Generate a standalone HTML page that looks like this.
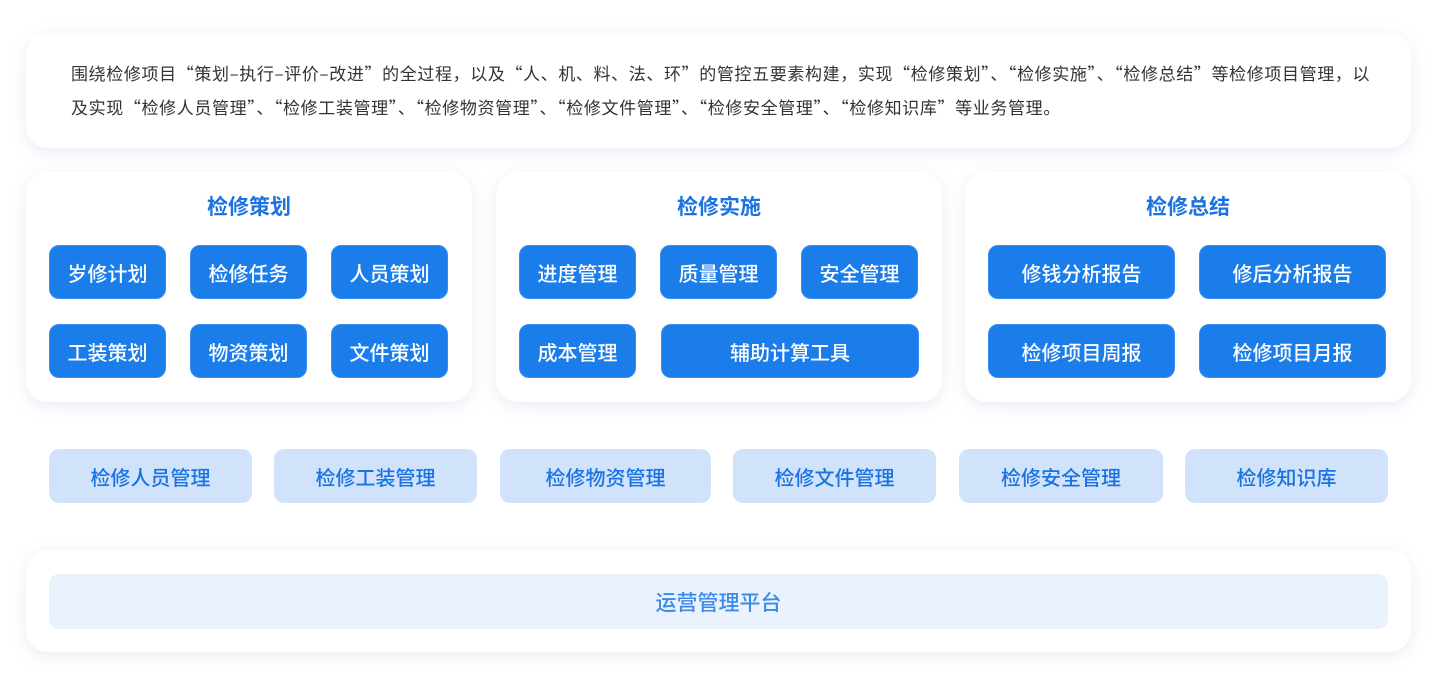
<!DOCTYPE html>
<html><head><meta charset="utf-8"><style>
*{margin:0;padding:0;box-sizing:border-box}
body{width:1440px;height:690px;background:#fff;position:relative;overflow:hidden;font-family:"Noto Sans CJK SC","Liberation Sans",sans-serif}
.card{position:absolute;background:#fff;border-radius:22px;box-shadow:0 4px 16px rgba(120,150,200,0.18)}
.t{position:absolute;left:0;right:0;text-align:center;color:#1a73e0;font-size:21px;font-weight:bold}
.b{position:absolute;background:#1a7de9;border:1px solid #3a8ef0;border-radius:10px;color:#fff;font-size:20px;font-weight:500;display:flex;align-items:center;justify-content:center}
.l{position:absolute;top:449px;height:54px;background:#d0e3fb;border-radius:10px;color:#1a73e0;font-size:20px;font-weight:500;display:flex;align-items:center;justify-content:center}
p{position:absolute;left:71px;font-size:17px;color:#333;white-space:nowrap;line-height:24px;letter-spacing:0.62px}
</style></head><body>
<div class="card" style="left:26px;top:33px;width:1385px;height:115px"></div>
<p style="top:61px">围绕检修项目“策划–执行–评价–改进”的全过程，以及“人、机、料、法、环”的管控五要素构建，实现“检修策划”、“检修实施”、“检修总结”等检修项目管理，以</p>
<p style="top:95px">及实现“检修人员管理”、“检修工装管理”、“检修物资管理”、“检修文件管理”、“检修安全管理”、“检修知识库”等业务管理。</p>

<div class="card" style="left:26px;top:172px;width:446px;height:230px"><div class="t" style="top:19px">检修策划</div></div>
<div class="card" style="left:496px;top:172px;width:446px;height:230px"><div class="t" style="top:19px">检修实施</div></div>
<div class="card" style="left:965px;top:172px;width:446px;height:230px"><div class="t" style="top:19px">检修总结</div></div>

<div class="b" style="left:49px;top:245px;width:117px;height:54px">岁修计划</div>
<div class="b" style="left:190px;top:245px;width:117px;height:54px">检修任务</div>
<div class="b" style="left:331px;top:245px;width:117px;height:54px">人员策划</div>
<div class="b" style="left:49px;top:324px;width:117px;height:54px">工装策划</div>
<div class="b" style="left:190px;top:324px;width:117px;height:54px">物资策划</div>
<div class="b" style="left:331px;top:324px;width:117px;height:54px">文件策划</div>

<div class="b" style="left:519px;top:245px;width:117px;height:54px">进度管理</div>
<div class="b" style="left:660px;top:245px;width:117px;height:54px">质量管理</div>
<div class="b" style="left:801px;top:245px;width:117px;height:54px">安全管理</div>
<div class="b" style="left:519px;top:324px;width:117px;height:54px">成本管理</div>
<div class="b" style="left:661px;top:324px;width:258px;height:54px">辅助计算工具</div>

<div class="b" style="left:988px;top:245px;width:187px;height:54px">修钱分析报告</div>
<div class="b" style="left:1199px;top:245px;width:187px;height:54px">修后分析报告</div>
<div class="b" style="left:988px;top:324px;width:187px;height:54px">检修项目周报</div>
<div class="b" style="left:1199px;top:324px;width:187px;height:54px">检修项目月报</div>

<div class="l" style="left:49px;width:203px">检修人员管理</div>
<div class="l" style="left:274px;width:203px">检修工装管理</div>
<div class="l" style="left:500px;width:211px">检修物资管理</div>
<div class="l" style="left:733px;width:203px">检修文件管理</div>
<div class="l" style="left:959px;width:204px">检修安全管理</div>
<div class="l" style="left:1185px;width:203px">检修知识库</div>

<div class="card" style="left:26px;top:550px;width:1385px;height:102px"></div>
<div style="position:absolute;left:49px;top:574px;width:1339px;height:55px;background:#eaf2fe;border-radius:10px;color:#3a8ae8;font-size:21px;font-weight:500;display:flex;align-items:center;justify-content:center">运营管理平台</div>
</body></html>
